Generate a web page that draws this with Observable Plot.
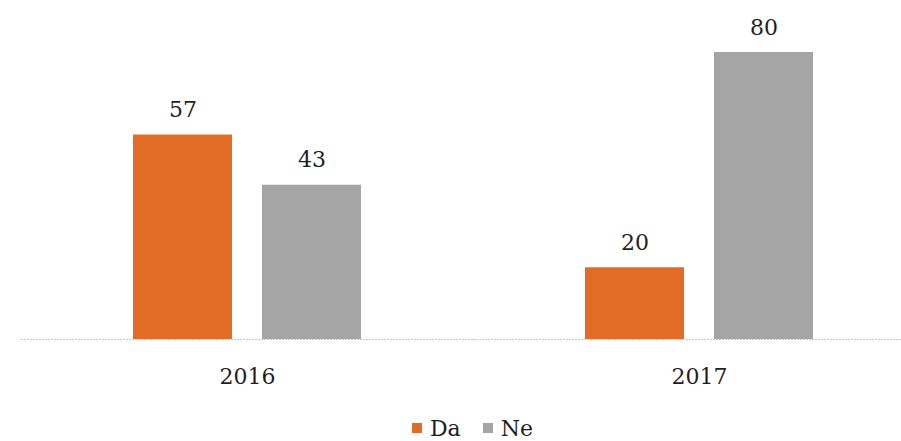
<!DOCTYPE html>
<html>
<head>
<meta charset="utf-8">
<script src="https://cdn.jsdelivr.net/npm/d3@7"></script>
<script src="https://cdn.jsdelivr.net/npm/@observablehq/plot@0.6"></script>
<style>
  html, body { margin: 0; padding: 0; background: #fff; }
  #chart svg { display: block; font-family: "DejaVu Serif", serif; }
  #legend { width: 901px; padding-left: 66px; padding-top: 13px; box-sizing: border-box; display: flex; justify-content: center; }
  #legend > div { justify-content: center; font-family: "DejaVu Serif", serif !important; font-size: 22px !important; color: #1f1f1f !important; min-height: 30px !important; margin: 0 !important; }
  #legend span, #legend div div { font-size: 22px !important; }
  #legend svg { margin-right: 8px !important; }
</style>
</head>
<body>
<div id="chart"></div>
<div id="legend"></div>
<script>
const years = ["2016", "2017"];
const series = ["Da", "Ne"];
const daValues = [57, 20];
const neValues = [43, 80];
const seriesColors = ["#e26b25", "#a5a5a5"];

const data = [];
years.forEach((yr, i) => {
  data.push({year: yr, series: "Da", value: daValues[i]});
  data.push({year: yr, series: "Ne", value: neValues[i]});
});

const chart = Plot.plot({
  width: 901,
  height: 400,
  marginTop: 52,
  marginBottom: 61,
  marginLeft: 20,
  marginRight: 0,
  style: {fontFamily: "DejaVu Serif, serif", fontSize: "22px", color: "#1f1f1f", background: "#fff"},
  fx: {domain: years, range: [20, 925], padding: 0, label: null, axis: "bottom", tickSize: 0, tickPadding: 29},
  x: {domain: series, paddingInner: 0.2308, paddingOuter: 0.856, axis: null},
  y: {domain: [0, 80], axis: null},
  color: {domain: series, range: seriesColors},
  marks: [
    Plot.ruleY([0], {stroke: "#c8c8c8", strokeWidth: 1, strokeDasharray: "2,1"}),
    Plot.barY(data, {fx: "year", x: "series", y: "value", fill: "series"}),
    Plot.text(data, {fx: "year", x: "series", y: "value", text: d => String(d.value), dy: -25, fontSize: 22, fill: "#1f1f1f"})
  ]
});
document.getElementById("chart").appendChild(chart);

const legend = Plot.legend({
  color: {domain: series, range: seriesColors},
  legend: "swatches",
  swatchSize: 10,
  className: "lg"
});
document.getElementById("legend").appendChild(legend);
</script>
</body>
</html>
